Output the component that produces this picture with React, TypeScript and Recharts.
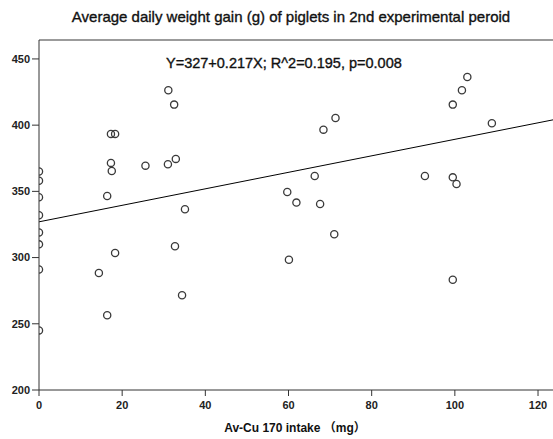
import React from 'react';
import { ScatterChart, Scatter, XAxis, YAxis, ReferenceLine, Customized } from 'recharts';

// Av-Cu 170 intake (mg)
const xValues = [
  0, 0, 0, 0, 0, 0, 0, 0,
  16.4, 17.3, 17.5, 17.3, 18.3, 25.6, 31.1, 32.5, 31.0, 32.9, 35.1,
  14.4, 18.3, 16.4, 32.7, 34.4,
  71.3, 68.4, 66.3, 59.7, 61.9, 67.6, 60.1, 71.0,
  103.0, 101.7, 99.5, 108.9, 92.8, 99.5, 100.4, 99.5,
];
// Average daily weight gain (g)
const yValues = [
  365, 358, 345.5, 332, 319, 310, 291, 245,
  346.5, 371.5, 365.4, 393.4, 393.4, 369.4, 426.4, 415.5, 370.5, 374.5, 336.5,
  288.4, 303.5, 256.4, 308.5, 271.5,
  405.4, 396.6, 361.6, 349.5, 341.5, 340.5, 298.4, 317.6,
  436.4, 426.4, 415.5, 401.4, 361.6, 360.6, 355.6, 283.3,
];

const fitX = [0, 123.6];
const fitY = [327, 404];

const xTicks = [0, 20, 40, 60, 80, 100, 120];
const yTicks = [200, 250, 300, 350, 400, 450];
const xDomain = [0, 123.6];
const yDomain = [200, 464.3];

const chartTitle = 'Average daily weight gain (g) of piglets in 2nd experimental peroid';
const equationText = 'Y=327+0.217X; R^2=0.195, p=0.008';
const xAxisTitle = 'Av-Cu 170 intake （mg）';

const points = xValues.map((x, i) => ({ x, y: yValues[i] }));

const FONT = '"Liberation Sans", Arial, "Noto Sans CJK SC", sans-serif';

const Ring = (props: any) => {
  const { cx, cy } = props;
  if (cx == null || cy == null) return null;
  return <circle cx={cx} cy={cy} r={3.6} fill="none" stroke="#3a3a3a" strokeWidth={1.3} />;
};

const Texts = () => (
  <g fontFamily={FONT}>
    <text x={291} y={22} textAnchor="middle" fontSize={15} fill="#111" stroke="#111" strokeWidth={0.35}>
      {chartTitle}
    </text>
    <text x={166} y={68} textAnchor="start" fontSize={14.5} fill="#111" stroke="#111" strokeWidth={0.35}>
      {equationText}
    </text>
    <text x={295} y={432} textAnchor="middle" fontSize={12} fontWeight="bold" fill="#111">
      {xAxisTitle}
    </text>
  </g>
);

export default function App() {
  return (
    <div style={{ position: 'absolute', left: 0, top: 0, width: 553, height: 439, background: '#fff', overflow: 'hidden' }}>
      <ScatterChart width={553} height={439} margin={{ top: 40, right: 0, bottom: 0, left: 0 }}>
        <XAxis
          type="number"
          dataKey="x"
          domain={xDomain}
          ticks={xTicks}
          allowDataOverflow
          height={49}
          tickSize={6}
          tickMargin={5}
          axisLine={{ stroke: '#333', strokeWidth: 1 }}
          tickLine={{ stroke: '#333', strokeWidth: 1 }}
          tick={{ fontSize: 11, fontWeight: 'bold', fill: '#222', fontFamily: FONT }}
        />
        <YAxis
          type="number"
          dataKey="y"
          domain={yDomain}
          ticks={yTicks}
          allowDataOverflow
          width={39}
          tickSize={7}
          tickMargin={2}
          axisLine={{ stroke: '#333', strokeWidth: 1 }}
          tickLine={{ stroke: '#333', strokeWidth: 1 }}
          tick={{ fontSize: 11, fontWeight: 'bold', fill: '#222', fontFamily: FONT }}
        />
        <ReferenceLine y={yDomain[1]} stroke="#7a7a7a" strokeWidth={1.5} />
        <ReferenceLine
          segment={[{ x: fitX[0], y: fitY[0] }, { x: fitX[1], y: fitY[1] }]}
          stroke="#000"
          strokeWidth={1}
        />
        <Scatter data={points} shape={<Ring />} isAnimationActive={false} />
        <Customized component={Texts} />
      </ScatterChart>
    </div>
  );
}
